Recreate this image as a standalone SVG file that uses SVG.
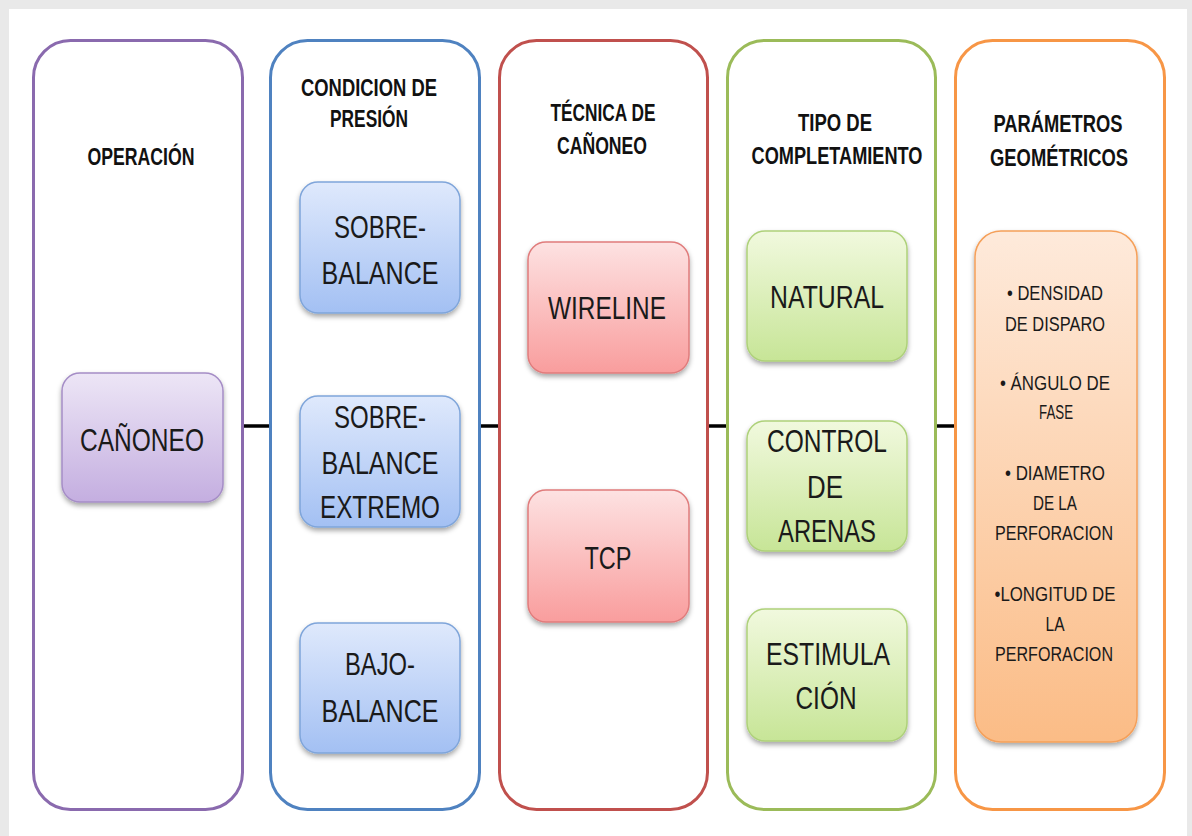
<svg xmlns="http://www.w3.org/2000/svg" width="1192" height="836" viewBox="0 0 1192 836">
<style>
.col{fill:#fff;stroke-width:3}
.box{stroke-width:1.5}
.hd{font-family:"Liberation Sans",Arial,sans-serif;font-weight:bold;font-size:23px;fill:#111;text-anchor:middle}
.bt{font-family:"Liberation Sans",Arial,sans-serif;font-size:32px;fill:#1a1a1a;text-anchor:middle}
.ot{font-family:"Liberation Sans",Arial,sans-serif;font-size:20px;fill:#1a1a1a;text-anchor:middle}
.con{stroke:#000;stroke-width:3.5}
</style>
<defs>
<filter id="sh" x="-20%" y="-20%" width="140%" height="140%">
<feDropShadow dx="0" dy="3" stdDeviation="2.5" flood-color="#000" flood-opacity="0.35"/>
</filter>
<linearGradient id="gP" x1="0" y1="0" x2="0" y2="1"><stop offset="0" stop-color="#ede6f6"/><stop offset="1" stop-color="#c4aee0"/></linearGradient>
<linearGradient id="gB" x1="0" y1="0" x2="0" y2="1"><stop offset="0" stop-color="#dfe9fc"/><stop offset="1" stop-color="#a3c0f3"/></linearGradient>
<linearGradient id="gR" x1="0" y1="0" x2="0" y2="1"><stop offset="0" stop-color="#fde2e2"/><stop offset="1" stop-color="#f99d9d"/></linearGradient>
<linearGradient id="gG" x1="0" y1="0" x2="0" y2="1"><stop offset="0" stop-color="#f1f9de"/><stop offset="1" stop-color="#c7e597"/></linearGradient>
<linearGradient id="gO" x1="0" y1="0" x2="0" y2="1"><stop offset="0" stop-color="#feeadb"/><stop offset="1" stop-color="#fbbc86"/></linearGradient>
</defs>
<rect width="1192" height="836" fill="#e9e9e9"/>
<rect x="9" y="9" width="1178" height="827" fill="#fff"/>

<g id="connectors">
<line class="con" x1="243" y1="426" x2="270" y2="426"/>
<line class="con" x1="480" y1="426" x2="499" y2="426"/>
<line class="con" x1="708" y1="426" x2="727" y2="426"/>
<line class="con" x1="936" y1="426" x2="955" y2="426"/>
</g>

<g id="col-operacion">
<rect class="col" x="33.5" y="40.5" width="209" height="769" rx="37" stroke="#8a6aae"/>
<text class="hd" x="141" y="165" textLength="107" lengthAdjust="spacingAndGlyphs">OPERACIÓN</text>
</g>
<g id="node-canoneo">
<rect class="box" x="62" y="373" width="161" height="129" rx="18" fill="url(#gP)" stroke="#a58dc6" filter="url(#sh)"/>
<text class="bt" x="142" y="451" textLength="124" lengthAdjust="spacingAndGlyphs">CAÑONEO</text>
</g>

<g id="col-presion">
<rect class="col" x="270.5" y="40.5" width="209" height="769" rx="37" stroke="#4f82c0"/>
<text class="hd" x="369" y="96" textLength="136" lengthAdjust="spacingAndGlyphs">CONDICION DE</text>
<text class="hd" x="369" y="127" textLength="78" lengthAdjust="spacingAndGlyphs">PRESIÓN</text>
</g>
<g id="node-sobrebalance">
<rect class="box" x="300" y="182" width="160" height="131" rx="18" fill="url(#gB)" stroke="#7fa5da" filter="url(#sh)"/>
<text class="bt" x="380" y="238" textLength="92" lengthAdjust="spacingAndGlyphs">SOBRE-</text>
<text class="bt" x="380" y="284" textLength="117" lengthAdjust="spacingAndGlyphs">BALANCE</text>
</g>
<g id="node-sobrebalance-extremo">
<rect class="box" x="300" y="396" width="160" height="131" rx="18" fill="url(#gB)" stroke="#7fa5da" filter="url(#sh)"/>
<text class="bt" x="380" y="428" textLength="92" lengthAdjust="spacingAndGlyphs">SOBRE-</text>
<text class="bt" x="380" y="474" textLength="117" lengthAdjust="spacingAndGlyphs">BALANCE</text>
<text class="bt" x="380" y="518" textLength="120" lengthAdjust="spacingAndGlyphs">EXTREMO</text>
</g>
<g id="node-bajobalance">
<rect class="box" x="300" y="623" width="160" height="130" rx="18" fill="url(#gB)" stroke="#7fa5da" filter="url(#sh)"/>
<text class="bt" x="380" y="675" textLength="70" lengthAdjust="spacingAndGlyphs">BAJO-</text>
<text class="bt" x="380" y="722" textLength="117" lengthAdjust="spacingAndGlyphs">BALANCE</text>
</g>

<g id="col-tecnica">
<rect class="col" x="499.5" y="40.5" width="208" height="769" rx="37" stroke="#c0504d"/>
<text class="hd" x="603" y="121" textLength="105" lengthAdjust="spacingAndGlyphs">TÉCNICA DE</text>
<text class="hd" x="602" y="154" textLength="90" lengthAdjust="spacingAndGlyphs">CAÑONEO</text>
</g>
<g id="node-wireline">
<rect class="box" x="528" y="242" width="161" height="131" rx="18" fill="url(#gR)" stroke="#e07c7c" filter="url(#sh)"/>
<text class="bt" x="607" y="319" textLength="118" lengthAdjust="spacingAndGlyphs">WIRELINE</text>
</g>
<g id="node-tcp">
<rect class="box" x="528" y="490" width="161" height="132" rx="18" fill="url(#gR)" stroke="#e07c7c" filter="url(#sh)"/>
<text class="bt" x="608" y="569" textLength="47" lengthAdjust="spacingAndGlyphs">TCP</text>
</g>

<g id="col-completamiento">
<rect class="col" x="727.5" y="40.5" width="208" height="769" rx="37" stroke="#9bbb59"/>
<text class="hd" x="835" y="131" textLength="74" lengthAdjust="spacingAndGlyphs">TIPO DE</text>
<text class="hd" x="837" y="164" textLength="171" lengthAdjust="spacingAndGlyphs">COMPLETAMIENTO</text>
</g>
<g id="node-natural">
<rect class="box" x="747" y="231" width="160" height="130" rx="18" fill="url(#gG)" stroke="#aed17a" filter="url(#sh)"/>
<text class="bt" x="827" y="308" textLength="114" lengthAdjust="spacingAndGlyphs">NATURAL</text>
</g>
<g id="node-control-arenas">
<rect class="box" x="747" y="421" width="160" height="130" rx="18" fill="url(#gG)" stroke="#aed17a" filter="url(#sh)"/>
<text class="bt" x="827" y="452" textLength="120" lengthAdjust="spacingAndGlyphs">CONTROL</text>
<text class="bt" x="825" y="498" textLength="36" lengthAdjust="spacingAndGlyphs">DE</text>
<text class="bt" x="827" y="542" textLength="98" lengthAdjust="spacingAndGlyphs">ARENAS</text>
</g>
<g id="node-estimulacion">
<rect class="box" x="747" y="609" width="160" height="132" rx="18" fill="url(#gG)" stroke="#aed17a" filter="url(#sh)"/>
<text class="bt" x="828" y="665" textLength="124" lengthAdjust="spacingAndGlyphs">ESTIMULA</text>
<text class="bt" x="826" y="709" textLength="61" lengthAdjust="spacingAndGlyphs">CIÓN</text>
</g>

<g id="col-parametros">
<rect class="col" x="955.5" y="40.5" width="209" height="769" rx="37" stroke="#f79646"/>
<text class="hd" x="1058" y="132" textLength="129" lengthAdjust="spacingAndGlyphs">PARÁMETROS</text>
<text class="hd" x="1059" y="166" textLength="138" lengthAdjust="spacingAndGlyphs">GEOMÉTRICOS</text>
</g>
<g id="node-parametros">
<rect class="box" x="975" y="231" width="162" height="511" rx="26" fill="url(#gO)" stroke="#f5a05a" filter="url(#sh)"/>
<text class="ot" x="1055" y="300" textLength="96" lengthAdjust="spacingAndGlyphs">• DENSIDAD</text>
<text class="ot" x="1055" y="331" textLength="100" lengthAdjust="spacingAndGlyphs">DE DISPARO</text>
<text class="ot" x="1055" y="390" textLength="110" lengthAdjust="spacingAndGlyphs">• ÁNGULO DE</text>
<text class="ot" x="1056" y="419" textLength="34" lengthAdjust="spacingAndGlyphs">FASE</text>
<text class="ot" x="1055" y="480" textLength="100" lengthAdjust="spacingAndGlyphs">• DIAMETRO</text>
<text class="ot" x="1055" y="510" textLength="44" lengthAdjust="spacingAndGlyphs">DE LA</text>
<text class="ot" x="1054" y="540" textLength="118" lengthAdjust="spacingAndGlyphs">PERFORACION</text>
<text class="ot" x="1055" y="601" textLength="121" lengthAdjust="spacingAndGlyphs">•LONGITUD DE</text>
<text class="ot" x="1055" y="631" textLength="19" lengthAdjust="spacingAndGlyphs">LA</text>
<text class="ot" x="1054" y="661" textLength="118" lengthAdjust="spacingAndGlyphs">PERFORACION</text>
</g>
</svg>
